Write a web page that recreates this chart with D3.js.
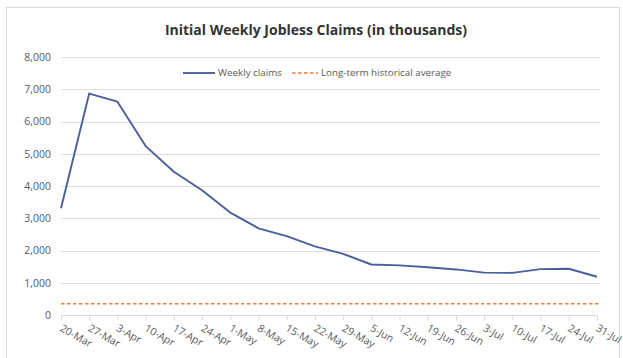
<!DOCTYPE html>
<html>
<head>
<meta charset="utf-8">
<script src="https://cdn.jsdelivr.net/npm/d3@7"></script>
<style>
  html, body { margin: 0; padding: 0; background: #fff; }
  svg { display: block; font-family: "Open Sans", "Liberation Sans", sans-serif; }
</style>
</head>
<body>
<svg id="chart" width="623" height="358"></svg>
<script>
// Weekly initial jobless claims, in thousands
const weeks = ["20-Mar","27-Mar","3-Apr","10-Apr","17-Apr","24-Apr","1-May","8-May","15-May","22-May",
               "29-May","5-Jun","12-Jun","19-Jun","26-Jun","3-Jul","10-Jul","17-Jul","24-Jul","31-Jul"];
const claims = [3307, 6867, 6615, 5237, 4442, 3867, 3176, 2687, 2446, 2126,
                1897, 1566, 1540, 1482, 1413, 1314, 1307, 1422, 1434, 1186];
const historicalAverage = 350;
const yTicks = [0, 1000, 2000, 3000, 4000, 5000, 6000, 7000, 8000];

const svg = d3.select("#chart");
const plot = { left: 61, right: 597, top: 57, bottom: 315 };

// chart frame
svg.append("rect")
  .attr("x", 6.5).attr("y", 7.5)
  .attr("width", 613).attr("height", 352)
  .attr("fill", "#fff").attr("stroke", "#d9d9d9");

const x = d3.scalePoint().domain(weeks).range([plot.left, plot.right]);
const y = d3.scaleLinear().domain([0, 8000]).range([plot.bottom, plot.top]);

// title
svg.append("text")
  .attr("x", 316).attr("y", 35)
  .attr("text-anchor", "middle")
  .attr("font-size", 14).attr("font-weight", "bold")
  .attr("fill", "#333")
  .text("Initial Weekly Jobless Claims (in thousands)");

// horizontal gridlines + y labels
const yAxis = d3.axisLeft(y).tickValues(yTicks).tickFormat(d3.format(",")).tickSize(0).tickPadding(10);
const gy = svg.append("g").attr("transform", `translate(${plot.left},0)`).call(yAxis);
gy.select(".domain").remove();
gy.selectAll("text").attr("fill", "#595959").attr("font-size", 10.5).attr("font-family", "Open Sans, sans-serif");
svg.append("g").selectAll("line")
  .data(yTicks.filter(d => d > 0))
  .join("line")
  .attr("x1", plot.left).attr("x2", plot.right + 3)
  .attr("y1", d => Math.round(y(d)) + 0.5).attr("y2", d => Math.round(y(d)) + 0.5)
  .attr("stroke", "#dedede").attr("stroke-width", 1);

// category axis
const xAxis = d3.axisBottom(x).tickSize(5).tickFormat("");
const gx = svg.append("g").attr("transform", `translate(0,${Math.round(y(0)) + 0.5})`).call(xAxis);
gx.select(".domain").attr("stroke", "#d9d9d9").attr("d", `M${plot.left},0H${plot.right}`);
gx.selectAll(".tick line").attr("stroke", "#d9d9d9");
svg.append("g").selectAll("text")
  .data(weeks)
  .join("text")
  .attr("transform", d => `translate(${x(d)},${plot.bottom + 12}) rotate(30)`)
  .attr("dy", "0.35em")
  .attr("font-size", 10.5)
  .attr("fill", "#595959")
  .text(d => d);

// long-term average
svg.append("line")
  .attr("x1", plot.left).attr("x2", plot.right + 2)
  .attr("y1", y(historicalAverage)).attr("y2", y(historicalAverage))
  .attr("stroke", "#ed7d31").attr("stroke-width", 1.6)
  .attr("stroke-dasharray", "3.5,2.5");

// weekly claims line
const line = d3.line().x((d, i) => x(weeks[i])).y(d => y(d));
svg.append("path")
  .datum(claims)
  .attr("d", line)
  .attr("fill", "none")
  .attr("stroke", "#4a5f9c")
  .attr("stroke-width", 1.9)
  .attr("stroke-linejoin", "round");

// legend
const lg = svg.append("g").attr("font-size", 9.8).attr("fill", "#595959");
lg.append("line").attr("x1", 183).attr("x2", 215).attr("y1", 73).attr("y2", 73)
  .attr("stroke", "#4a5f9c").attr("stroke-width", 1.9);
lg.append("text").attr("x", 218).attr("y", 73).attr("dy", "0.35em").text("Weekly claims");
lg.append("line").attr("x1", 292).attr("x2", 318).attr("y1", 73).attr("y2", 73)
  .attr("stroke", "#ed7d31").attr("stroke-width", 1.6).attr("stroke-dasharray", "3.5,2.5");
lg.append("text").attr("x", 321).attr("y", 73).attr("dy", "0.35em").text("Long-term historical average");
</script>
</body>
</html>
